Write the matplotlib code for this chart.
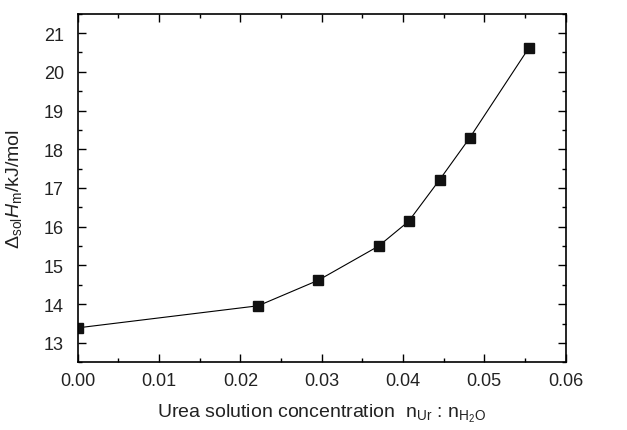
import matplotlib
matplotlib.use("Agg")
import matplotlib.pyplot as plt
from matplotlib.ticker import MultipleLocator

# data
conc = [0.0, 0.0222, 0.0296, 0.0370, 0.0407, 0.0445, 0.0482, 0.0555]
dH = [13.39, 13.96, 14.62, 15.50, 16.14, 17.21, 18.29, 20.62]

x_ticks = [0.00, 0.01, 0.02, 0.03, 0.04, 0.05, 0.06]
y_ticks = [13, 14, 15, 16, 17, 18, 19, 20, 21]

plt.rcParams['font.family'] = ['Liberation Sans', 'DejaVu Sans']
plt.rcParams['mathtext.fontset'] = 'custom'
plt.rcParams['mathtext.rm'] = 'Liberation Sans'
plt.rcParams['mathtext.it'] = 'Liberation Sans:italic'

fig = plt.figure(figsize=(6.27, 4.31), dpi=100)
ax = fig.add_axes([0.124, 0.157, 0.778, 0.809])

ax.plot(conc, dH, color='black', linewidth=0.8, marker='s', markersize=7,
        markerfacecolor='#111111', markeredgecolor='#111111')

ax.set_xlim(0, 0.06)
ax.set_ylim(12.5, 21.5)
ax.set_xticks(x_ticks)
ax.set_xticklabels(["%.2f" % v for v in x_ticks])
ax.set_yticks(y_ticks)
ax.xaxis.set_minor_locator(MultipleLocator(0.005))
ax.yaxis.set_minor_locator(MultipleLocator(0.5))

ax.tick_params(which='both', direction='in', top=True, right=True,
               labelsize=13, labelcolor='#222222')
ax.tick_params(axis='x', which='major', pad=7)
ax.tick_params(axis='y', which='major', pad=10)
ax.tick_params(which='major', length=6, width=1)
ax.tick_params(which='minor', length=3, width=1)
for s in ax.spines.values():
    s.set_linewidth(1.2)

ax.set_xlabel(r'Urea solution concentration  n$_{\mathrm{Ur}}$ : n$_{\mathrm{H_2O}}$',
              fontsize=14, color='#222222', labelpad=9)
ax.set_ylabel(r'$\Delta_{\mathrm{sol}}$$\it{H}$$_{\mathrm{m}}$/kJ/mol', fontsize=14,
              color='#222222', labelpad=14)

fig.savefig('out.png', dpi=100)
